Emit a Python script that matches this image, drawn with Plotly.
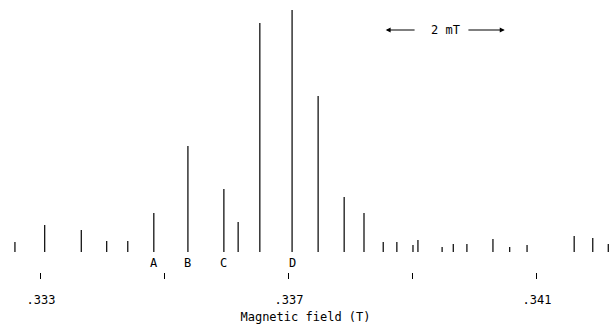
import plotly.graph_objects as go

# Line positions (T) and relative intensities
fields = [0.33258, 0.33306, 0.33365, 0.33406, 0.33440, 0.33482, 0.33537, 0.33595,
          0.33618, 0.33653, 0.33705, 0.33747, 0.33789, 0.33821, 0.33852, 0.33874,
          0.33900, 0.33908, 0.33947, 0.33965, 0.33987, 0.34029, 0.34056, 0.34084,
          0.34160, 0.34190, 0.34215]
intens = [10, 27, 22, 11, 11, 39, 106, 63, 30, 229, 242, 156, 55, 39, 10, 10,
          7, 12, 5, 8, 8, 13, 5, 7, 16, 14, 8]

label_names = ["A", "B", "C", "D"]
label_fields = [0.33482, 0.33537, 0.33595, 0.33705]

tick_vals = [0.333, 0.335, 0.337, 0.339, 0.341]
tick_text = [".333", "", ".337", "", ".341"]

# scale bar: 2 mT from 0.33856 to 0.34048
bar_left, bar_right = 0.33856, 0.34048
bar_y = 222

xs, ys = [], []
for f, h in zip(fields, intens):
    xs += [f, f, None]
    ys += [0, h, None]

fig = go.Figure()
fig.add_trace(go.Scatter(x=xs, y=ys, mode="lines",
                         line=dict(color="black", width=1.2),
                         hoverinfo="skip", showlegend=False))

font = dict(family="DejaVu Sans Mono", size=12, color="black")

for n, f in zip(label_names, label_fields):
    fig.add_annotation(x=f, y=-11, text=n, showarrow=False, font=font,
                       xref="x", yref="y")

mid = (bar_left + bar_right) / 2
fig.add_annotation(x=mid, y=bar_y, text="2 mT", showarrow=False,
                   font=font, xref="x", yref="y")
fig.add_annotation(x=bar_left, y=bar_y, ax=bar_left + 0.00049, ay=bar_y,
                   xref="x", yref="y", axref="x", ayref="y", text="",
                   showarrow=True, arrowhead=2, arrowsize=0.9, arrowwidth=1.1,
                   arrowcolor="black")
fig.add_annotation(x=bar_right, y=bar_y, ax=bar_right - 0.00061, ay=bar_y,
                   xref="x", yref="y", axref="x", ayref="y", text="",
                   showarrow=True, arrowhead=2, arrowsize=0.9, arrowwidth=1.1,
                   arrowcolor="black")

fig.update_layout(
    width=611, height=325,
    margin=dict(l=0, r=0, t=2, b=53),
    plot_bgcolor="white", paper_bgcolor="white",
    font=font,
    xaxis=dict(range=[0.332339, 0.342194], showgrid=False, zeroline=False,
               showline=False, ticks="outside", ticklen=6, tickwidth=1,
               tickcolor="black", tickvals=tick_vals, ticktext=tick_text,
               ticklabelstandoff=11,
               title=dict(text="Magnetic field (T)", font=font, standoff=6)),
    yaxis=dict(range=[-20, 250], visible=False, showgrid=False, zeroline=False),
)

fig.write_html("out.html")
